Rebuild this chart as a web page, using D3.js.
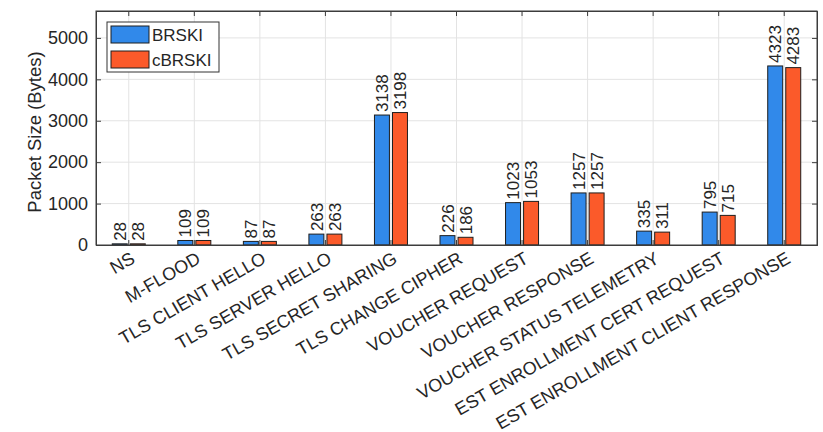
<!DOCTYPE html>
<html>
<head>
<meta charset="utf-8">
<script src="https://cdn.jsdelivr.net/npm/d3@7/dist/d3.min.js"></script>
<style>
  html, body { margin: 0; padding: 0; background: #fff; }
  svg { display: block; font-family: "Liberation Sans", Arial, Helvetica, sans-serif; }
</style>
</head>
<body>
<svg id="chart" width="823" height="432"></svg>
<script>
// Message types exchanged during the bootstrapping flow
const categories = [
  "NS", "M-FLOOD", "TLS CLIENT HELLO", "TLS SERVER HELLO", "TLS SECRET SHARING",
  "TLS CHANGE CIPHER", "VOUCHER REQUEST", "VOUCHER RESPONSE",
  "VOUCHER STATUS TELEMETRY", "EST ENROLLMENT CERT REQUEST", "EST ENROLLMENT CLIENT RESPONSE"
];
const seriesNames = ["BRSKI", "cBRSKI"];
const brski  = [28, 109, 87, 263, 3138, 226, 1023, 1257, 335, 795, 4323];
const cbrski = [28, 109, 87, 263, 3198, 186, 1053, 1257, 311, 715, 4283];
const yTicks = [0, 1000, 2000, 3000, 4000, 5000];
const colors = ["#3189ea", "#fb5a2a"];

const svg = d3.select("#chart");
const plot = { left: 96, right: 817, top: 11, bottom: 245 };
const textColor = "#262626";

const x = d3.scaleBand().domain(categories).range([plot.left, plot.right]).padding(0);
const xs = d3.scaleBand().domain(seriesNames).range([-16.5, 16.5]).paddingInner(0.17);
const y = d3.scaleLinear().domain([0, 5650]).range([plot.bottom, plot.top]);

const rows = categories.map((c, i) => ({ cat: c, vals: [brski[i], cbrski[i]] }));

// grid
const grid = svg.append("g");
grid.selectAll("line.gy").data(yTicks.slice(1)).join("line")
  .attr("x1", plot.left).attr("x2", plot.right)
  .attr("y1", d => y(d)).attr("y2", d => y(d))
  .attr("stroke", "#e3e3e3").attr("stroke-width", 1);
grid.selectAll("line.gx").data(categories).join("line")
  .attr("x1", d => x(d) + x.bandwidth() / 2).attr("x2", d => x(d) + x.bandwidth() / 2)
  .attr("y1", plot.top).attr("y2", plot.bottom)
  .attr("stroke", "#e3e3e3").attr("stroke-width", 1);

// bars
const groups = svg.append("g").selectAll("g").data(rows).join("g")
  .attr("transform", d => `translate(${x(d.cat) + x.bandwidth() / 2},0)`);
groups.selectAll("rect").data(d => d.vals.map((v, k) => ({ k, v }))).join("rect")
  .attr("x", d => xs(seriesNames[d.k]))
  .attr("width", xs.bandwidth())
  .attr("y", d => y(d.v))
  .attr("height", d => y(0) - y(d.v))
  .attr("fill", d => colors[d.k])
  .attr("stroke", "#1e1e1e").attr("stroke-width", 1);

// value labels
groups.selectAll("text").data(d => d.vals.map((v, k) => ({ k, v }))).join("text")
  .attr("transform", d => `translate(${xs(seriesNames[d.k]) + xs.bandwidth() / 2},${y(d.v) - 3}) rotate(-90)`)
  .attr("text-anchor", "start").attr("dy", "0.36em")
  .attr("font-size", 17).attr("fill", textColor)
  .text(d => d.v);

// axes frame
const axisColor = "#3c3c3c";
svg.append("rect")
  .attr("x", plot.left).attr("y", plot.top)
  .attr("width", plot.right - plot.left).attr("height", plot.bottom - plot.top)
  .attr("fill", "none").attr("stroke", axisColor).attr("stroke-width", 1);

const yAxisL = d3.axisLeft(y).tickValues(yTicks).tickSize(-5).tickPadding(8).tickFormat(d3.format("d"));
const gL = svg.append("g").attr("transform", `translate(${plot.left},0)`).call(yAxisL);
const yAxisR = d3.axisRight(y).tickValues(yTicks).tickSize(-5).tickFormat("");
const gR = svg.append("g").attr("transform", `translate(${plot.right},0)`).call(yAxisR);
const xAxisT = d3.axisTop(x).tickSize(-5).tickFormat("");
const gT = svg.append("g").attr("transform", `translate(0,${plot.top})`).call(xAxisT);
const xAxisB = d3.axisBottom(x).tickSize(-5).tickFormat("");
const gB = svg.append("g").attr("transform", `translate(0,${plot.bottom})`).call(xAxisB);
[gL, gR, gT, gB].forEach(g => {
  g.select(".domain").attr("stroke", axisColor);
  g.selectAll(".tick line").attr("stroke", axisColor);
});
gL.selectAll(".tick text").attr("font-size", 18).attr("fill", textColor)
  .attr("font-family", "Liberation Sans, Arial, sans-serif");

// rotated category labels
svg.append("g").selectAll("text").data(categories).join("text")
  .attr("transform", d => `translate(${x(d) + x.bandwidth() / 2 + 1},${plot.bottom + 6}) rotate(-30)`)
  .attr("text-anchor", "end").attr("dy", "0.71em")
  .attr("font-size", 18).attr("fill", textColor)
  .text(d => d);

// y axis title
svg.append("text")
  .attr("transform", `translate(41,${(plot.top + plot.bottom) / 2 + 4}) rotate(-90)`)
  .attr("text-anchor", "middle")
  .attr("font-size", 18.5).attr("fill", textColor)
  .text("Packet Size (Bytes)");

// legend
const lg = svg.append("g").attr("transform", "translate(107,22)");
lg.append("rect").attr("width", 112).attr("height", 50)
  .attr("fill", "#fff").attr("stroke", "#333").attr("stroke-width", 1);
seriesNames.forEach((s, k) => {
  lg.append("rect").attr("x", 4).attr("y", 4 + k * 25).attr("width", 38).attr("height", 17)
    .attr("fill", colors[k]).attr("stroke", "#1e1e1e").attr("stroke-width", 1);
  lg.append("text").attr("x", 45).attr("y", 12.5 + k * 25).attr("dy", "0.36em")
    .attr("font-size", 17).attr("fill", textColor).text(s);
});
</script>
</body>
</html>
